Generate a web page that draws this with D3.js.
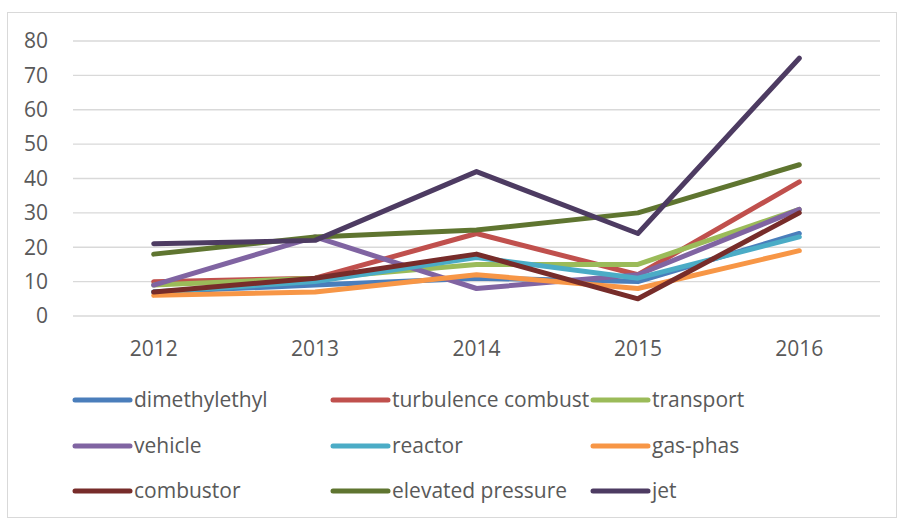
<!DOCTYPE html>
<html>
<head>
<meta charset="utf-8">
<script src="https://cdn.jsdelivr.net/npm/d3@7"></script>
<style>
  body { margin: 0; background: #fff; }
  text { font-family: 'Open Sans', sans-serif; fill: #595959; }
</style>
</head>
<body>
<div id="chart"></div>
<script>
const years = ['2012', '2013', '2014', '2015', '2016']
const yTicks = [0, 10, 20, 30, 40, 50, 60, 70, 80]

const dimethylethyl = [7, 9, 11, 10, 24]
const turbulenceCombust = [10, 11, 24, 12, 39]
const transport = [9, 11, 15, 15, 31]
const vehicle = [9, 23, 8, 12, 31]
const reactor = [7, 10, 17, 11, 23]
const gasPhas = [6, 7, 12, 8, 19]
const combustor = [7, 11, 18, 5, 30]
const elevatedPressure = [18, 23, 25, 30, 44]
const jet = [21, 22, 42, 24, 75]

const series = [
  { name: 'dimethylethyl', values: dimethylethyl, color: '#4a7ebb' },
  { name: 'turbulence combust', values: turbulenceCombust, color: '#c0504d' },
  { name: 'transport', values: transport, color: '#9bbb59' },
  { name: 'vehicle', values: vehicle, color: '#8064a2' },
  { name: 'reactor', values: reactor, color: '#4bacc6' },
  { name: 'gas-phas', values: gasPhas, color: '#f79646' },
  { name: 'combustor', values: combustor, color: '#772c2a' },
  { name: 'elevated pressure', values: elevatedPressure, color: '#5f7530' },
  { name: 'jet', values: jet, color: '#4d3b62' },
]

const W = 898
const H = 519
const plot = { left: 73, right: 880, top: 41, bottom: 316 }
const fontSize = 21

const svg = d3.select('#chart')
  .append('svg')
  .attr('width', W)
  .attr('height', H)

// chart frame
svg.append('rect')
  .attr('x', 7.5).attr('y', 12.5)
  .attr('width', 889).attr('height', 505)
  .attr('fill', 'none')
  .attr('stroke', '#d9d9d9')

const x = d3.scaleBand().domain(years).range([plot.left, plot.right])
const y = d3.scaleLinear().domain([0, 80]).range([plot.bottom, plot.top])

// gridlines
svg.append('g')
  .selectAll('line')
  .data(yTicks)
  .join('line')
  .attr('x1', plot.left).attr('x2', plot.right)
  .attr('y1', (d) => y(d)).attr('y2', (d) => y(d))
  .attr('stroke', '#d9d9d9')
  .attr('stroke-width', 1.3)

// y labels
svg.append('g')
  .selectAll('text')
  .data(yTicks)
  .join('text')
  .attr('x', 48)
  .attr('y', (d) => y(d))
  .attr('dy', '0.35em')
  .attr('text-anchor', 'end')
  .attr('font-size', fontSize)
  .text((d) => d)

// x labels
svg.append('g')
  .selectAll('text')
  .data(years)
  .join('text')
  .attr('x', (d) => x(d) + x.bandwidth() / 2)
  .attr('y', 349)
  .attr('dy', '0.35em')
  .attr('text-anchor', 'middle')
  .attr('font-size', fontSize)
  .text((d) => d)

const line = d3.line()
  .x((d, i) => x(years[i]) + x.bandwidth() / 2)
  .y((d) => y(d))

svg.append('g')
  .selectAll('path')
  .data(series)
  .join('path')
  .attr('d', (s) => line(s.values))
  .attr('fill', 'none')
  .attr('stroke', (s) => s.color)
  .attr('stroke-width', 5)
  .attr('stroke-linecap', 'round')
  .attr('stroke-linejoin', 'round')

// legend, 3 columns
const colX = [75, 333, 593]
const rowY = [400, 446, 491]
const legend = svg.append('g')
  .selectAll('g')
  .data(series)
  .join('g')
  .attr('transform', (s, i) => `translate(${colX[i % 3]},${rowY[Math.floor(i / 3)]})`)

legend.append('line')
  .attr('x1', 0).attr('x2', 55)
  .attr('stroke', (s) => s.color)
  .attr('stroke-width', 5)
  .attr('stroke-linecap', 'round')

legend.append('text')
  .attr('x', 59)
  .attr('dy', '0.35em')
  .attr('font-size', fontSize)
  .text((s) => s.name)
</script>
</body>
</html>
